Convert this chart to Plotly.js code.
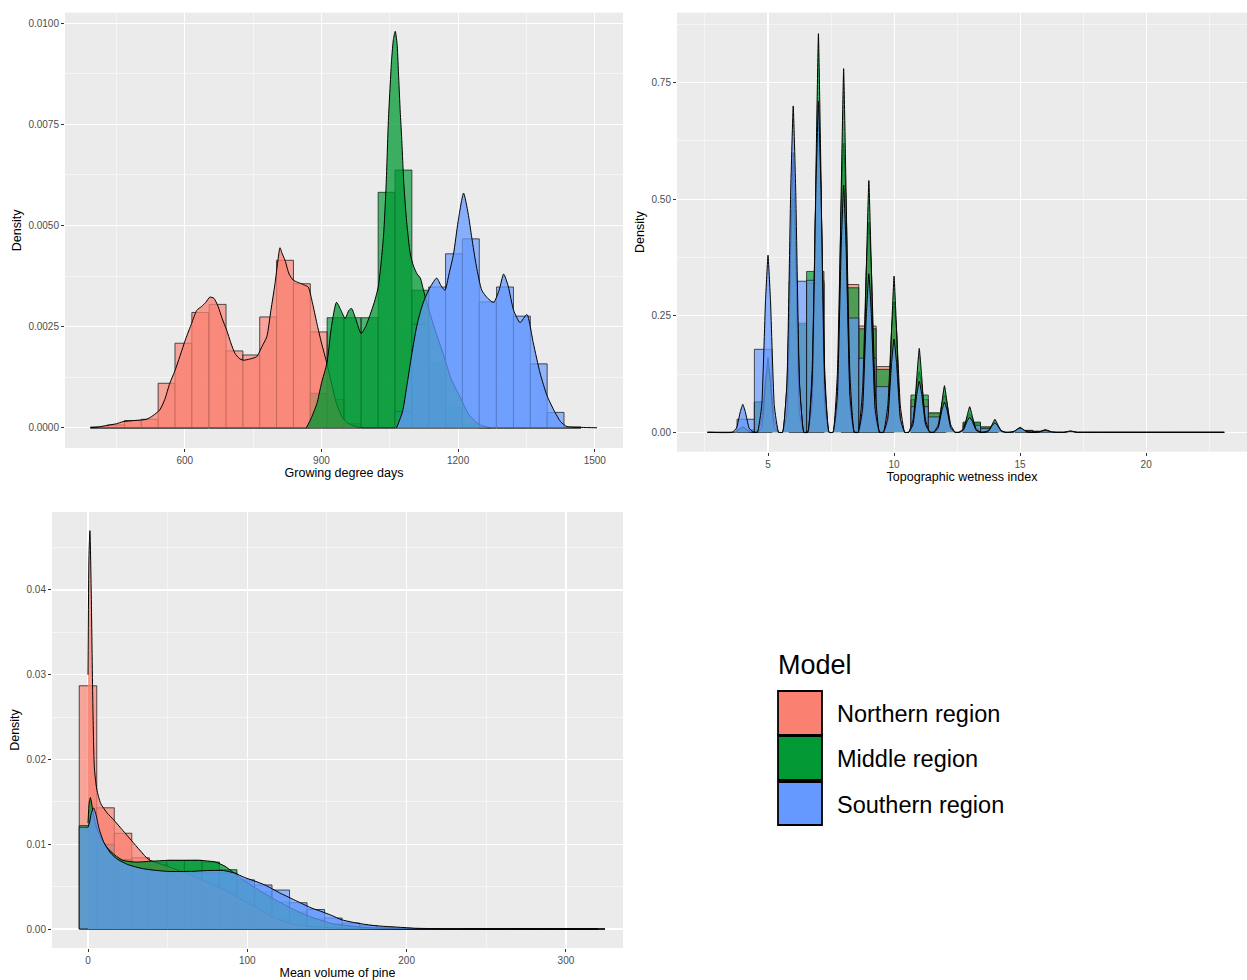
<!DOCTYPE html>
<html><head><meta charset="utf-8">
<script src="https://cdn.plot.ly/plotly-3.0.1.min.js"></script>
<style>html,body{margin:0;padding:0;background:#fff}</style>
</head><body><div id="chart" style="width:1247px;height:980px"></div>
<script>
// ---------- data ----------
const regions = ['Northern region', 'Middle region', 'Southern region'];

// Panel 1: Growing degree days
const gddBins = [412,449,486,523,560,597,634,672,709,746,783,820,857,894,931,968,1006,1043,1080,1117,1154,1191,1228,1265,1303,1340,1377,1414,1451];
const gddRedBars = [0.00002,0.00007,0.00018,0.00021,0.0011,0.00209,0.00285,0.00305,0.0019,0.0018,0.00274,0.00414,0.00356,0.00237,0.0007,0.0001,0,0,0,0,0,0,0,0,0,0,0,0,0];
const gddGreenBars = [0,0,0,0,0,0,0,0,0,0,0,0,0,0.00085,0.00272,0.00272,0.00272,0.00582,0.00637,0.0034,0.0016,0.0005,0.0001,0,0,0,0,0,0];
const gddBlueBars = [0,0,0,0,0,0,0,0,0,0,0,0,0,0,0,0,0,0,0.0004,0.00256,0.00348,0.0043,0.00467,0.00311,0.00348,0.00276,0.00158,0.00038,0.00002];
const gddRedX = [392,410,430,450,464,490,516,530,545,556,567,578,589,602,615,626,637,646,655,664,673,682,692,701,710,719,728,743,758,769,780,789,798,804,809,814,820,829,838,847,856,864,871,880,890,900,912,922,933,946,960,975,990];
const gddRedY = [0,0.00002,0.00006,0.0001,0.00015,0.00018,0.00021,0.0003,0.00044,0.0007,0.0011,0.0014,0.00176,0.0022,0.00258,0.0029,0.003,0.0031,0.00323,0.0032,0.003,0.0027,0.00241,0.0021,0.00184,0.00172,0.00167,0.0017,0.00176,0.0020,0.00225,0.0029,0.00356,0.0041,0.00445,0.0043,0.00414,0.0038,0.00365,0.0036,0.00356,0.00352,0.00348,0.0031,0.00258,0.0021,0.00159,0.0011,0.0006,0.00025,0.0001,0.00003,0];
const gddGreenX = [867,878,890,900,912,922,933,943,952,960,966,975,987,997,1007,1016,1025,1036,1042,1047,1054,1058,1062,1066,1069,1073,1076,1081,1087,1095,1102,1110,1117,1124,1131,1150,1168,1185,1204,1225,1248,1270];
const gddGreenY = [0,0.00025,0.0006,0.0011,0.0016,0.0025,0.0031,0.0029,0.0027,0.0029,0.00295,0.0027,0.00233,0.0025,0.0028,0.0031,0.0035,0.0047,0.006,0.0076,0.0091,0.0096,0.0098,0.0095,0.0088,0.0078,0.0072,0.006,0.0051,0.0043,0.004,0.0038,0.0037,0.0034,0.0031,0.0024,0.0018,0.0012,0.00077,0.0003,0.00007,0];
const gddBlueX = [1065,1078,1087,1098,1109,1118,1127,1140,1153,1163,1171,1180,1190,1200,1212,1222,1230,1240,1252,1265,1278,1290,1300,1310,1322,1336,1351,1365,1380,1395,1410,1425,1439,1470,1505];
const gddBlueY = [0,0.0004,0.001,0.0018,0.0025,0.0029,0.0032,0.0035,0.0037,0.0035,0.0034,0.0038,0.0043,0.0051,0.0058,0.0053,0.0047,0.004,0.0034,0.0032,0.0031,0.0034,0.0038,0.0035,0.0029,0.0026,0.0028,0.0021,0.00135,0.0008,0.00044,0.00015,0.00003,0.00001,0];

// Panel 2: Topographic wetness index
const twiBins = [4.115,4.805,6.185,6.875,8.255,8.945,9.635,11.015,11.705,13.085,13.775,15.155,15.845];
const twiRedBars = [0.005,0.065,0.23,0.32,0.317,0.228,0.141,0.07,0.04,0.02,0.01,0.004,0.002];
const twiGreenBars = [0.005,0.065,0.234,0.345,0.31,0.222,0.135,0.08,0.042,0.022,0.012,0.004,0.002];
const twiBlueBars = [0.028,0.178,0.324,0.326,0.245,0.159,0.098,0.055,0.033,0.015,0.008,0.004,0.002];
const twiX = [2.6,
 3.58,3.75,3.9,4,4.1,4.25,4.42,
 4.58,4.75,4.9,5,5.1,5.25,5.42,
 5.58,5.75,5.9,6,6.1,6.25,6.42,
 6.58,6.75,6.9,7,7.1,7.25,7.42,
 7.58,7.75,7.9,8,8.1,8.25,8.42,
 8.58,8.75,8.9,9,9.1,9.25,9.42,
 9.58,9.75,9.9,10,10.1,10.25,10.42,
 10.58,10.75,10.9,11,11.1,11.25,11.42,
 11.58,11.75,11.9,12,12.1,12.25,12.42,
 12.58,12.75,12.9,13,13.1,13.25,13.42,
 13.58,13.75,13.9,14,14.1,14.25,14.42,
 14.58,14.75,14.9,15,15.1,15.25,15.42,
 15.58,15.75,15.9,16,16.1,16.25,16.42,
 16.58,16.75,16.9,17,17.1,17.25,17.42,
 23.1];
const twiRedY = [0,
 0,0.002,0.008,0.01,0.008,0.002,0,
 0,0.028,0.109,0.14,0.109,0.028,0,
 0,0.10,0.39,0.50,0.39,0.10,0,
 0,0.132,0.515,0.66,0.515,0.132,0,
 0,0.124,0.484,0.62,0.484,0.124,0,
 0,0.09,0.351,0.45,0.351,0.09,0,
 0,0.056,0.218,0.28,0.218,0.056,0,
 0,0.026,0.101,0.13,0.101,0.026,0,
 0,0.016,0.062,0.08,0.062,0.016,0,
 0,0.008,0.031,0.04,0.031,0.008,0,
 0,0.004,0.016,0.02,0.016,0.004,0,
 0,0.002,0.006,0.008,0.006,0.002,0,
 0,0.001,0.003,0.004,0.003,0.001,0,
 0,0,0.0015,0.002,0.0015,0,0,
 0];
const twiGreenY = [0,
 0,0.001,0.008,0.012,0.008,0.001,0,
 0,0.011,0.104,0.16,0.104,0.011,0,
 0,0.042,0.39,0.60,0.39,0.042,0,
 0,0.06,0.556,0.855,0.556,0.06,0,
 0,0.055,0.507,0.78,0.507,0.055,0,
 0,0.038,0.351,0.54,0.351,0.038,0,
 0,0.023,0.218,0.335,0.218,0.023,0,
 0,0.013,0.117,0.18,0.117,0.013,0,
 0,0.007,0.065,0.10,0.065,0.007,0,
 0,0.004,0.036,0.055,0.036,0.004,0,
 0,0.002,0.018,0.028,0.018,0.002,0,
 0,0.001,0.007,0.011,0.007,0.001,0,
 0,0,0.004,0.006,0.004,0,0,
 0,0,0.002,0.003,0.002,0,0,
 0];
const twiBlueY = [0,
 0,0.009,0.044,0.06,0.044,0.009,0,
 0,0.057,0.281,0.38,0.281,0.057,0,
 0,0.105,0.518,0.70,0.518,0.105,0,
 0,0.107,0.525,0.71,0.525,0.107,0,
 0,0.08,0.392,0.53,0.392,0.08,0,
 0,0.051,0.252,0.34,0.252,0.051,0,
 0,0.03,0.148,0.20,0.148,0.03,0,
 0,0.017,0.081,0.11,0.081,0.017,0,
 0,0.01,0.048,0.065,0.048,0.01,0,
 0,0.005,0.024,0.032,0.024,0.005,0,
 0,0.003,0.015,0.02,0.015,0.003,0,
 0,0.001,0.007,0.009,0.007,0.001,0,
 0,0.001,0.003,0.004,0.003,0.001,0,
 0,0,0.0015,0.002,0.0015,0,0,
 0];

// Panel 3: Mean volume of pine
const volBins = [0,11,22,33,44,55,66,77,88,99,110,121,132,143,154,165,176,187,198,209,220,231,242,253,264,275,286,297,308,319];
const volRedBars = [0.0287,0.0143,0.0113,0.0084,0.0076,0.0068,0.0061,0.0055,0.0045,0.0032,0.0022,0.0012,0.0006,0.0003,0.0001,0.00005,0.00002,0,0,0,0,0,0,0,0,0,0,0,0,0];
const volGreenBars = [0.0122,0.0098,0.0082,0.0078,0.0079,0.0081,0.0081,0.0079,0.0070,0.0056,0.0044,0.0032,0.0020,0.0012,0.0006,0.0003,0.0001,0.00005,0.00002,0,0,0,0,0,0,0,0,0,0,0];
const volBlueBars = [0.0120,0.0100,0.0080,0.0072,0.0068,0.0066,0.0066,0.0066,0.0066,0.0058,0.0052,0.0046,0.0031,0.0023,0.0013,0.0007,0.0004,0.0002,0.0001,0.00005,0.00003,0.00002,0.00001,0.00001,0,0,0,0,0,0.00001];
const volRedX = [0,0.6,1.2,2,3,4,5.5,8,12,16,22,27,33,38,45,50,58,65,75,86,95,106,115,126,140,160,190,230,280,320];
const volRedY = [0.030,0.044,0.047,0.040,0.027,0.019,0.0165,0.0148,0.0137,0.0129,0.0116,0.0105,0.0092,0.0082,0.0077,0.0074,0.0068,0.0063,0.0055,0.0046,0.0036,0.0025,0.0015,0.0007,0.0003,0.0001,0.00003,0.00001,0.000005,0];
const volGreenX = [0,0.8,1.5,3,5,8,12,17,22,30,40,50,60,70,80,86,91,96,102,109,115,121,128,136,145,154,163,172,185,200,230,270,320];
const volGreenY = [0.0125,0.0150,0.0155,0.0140,0.0122,0.0108,0.0096,0.0087,0.0081,0.0079,0.0080,0.0081,0.0081,0.0081,0.0079,0.0074,0.0067,0.0060,0.0052,0.0044,0.0037,0.0031,0.0024,0.0017,0.0011,0.0006,0.0004,0.0002,0.0001,0.00005,0.00002,0.00001,0];
const volBlueX = [0,1,2,3.5,5,7,10,14,18,25,35,50,65,75,85,92,98,104,111,121,131,140,146,153,159,166,172,180,187,196,204,213,222,240,270,320];
const volBlueY = [0.0120,0.0126,0.0136,0.0143,0.0135,0.0118,0.0102,0.0090,0.0083,0.0076,0.0071,0.0068,0.0068,0.0069,0.0069,0.0066,0.0061,0.0057,0.0052,0.0042,0.0033,0.0025,0.0021,0.0016,0.0011,0.0008,0.0006,0.0004,0.0003,0.0002,0.0001,0.00006,0.00003,0.00001,0.000005,0];

// ---------- styling ----------
const FONT = 'Liberation Sans, Arial, Helvetica, sans-serif';
const rgb = ['250,128,114', '0,153,51', '102,153,255'];
const W = 1247, H = 980;
const px = v => v / W;
const py = v => 1 - v / H;

function bars(x, y, width, ci, xa, ya) {
  return {type: 'bar', x: x, y: y, width: width, xaxis: xa, yaxis: ya, name: regions[ci],
    showlegend: false, hoverinfo: 'skip',
    marker: {color: 'rgba(' + rgb[ci] + ',0.68)', line: {color: 'rgba(20,20,20,0.8)', width: 0.9}}};
}
function dens(x, y, ci, xa, ya, shape, smooth) {
  return {type: 'scatter', mode: 'lines', x: x, y: y, xaxis: xa, yaxis: ya, name: regions[ci],
    showlegend: false, hoverinfo: 'skip', fill: 'tozeroy',
    fillcolor: 'rgba(' + rgb[ci] + ',0.75)',
    line: {color: '#000000', width: 1, shape: shape, smoothing: smooth}};
}

const traces = [
  bars(gddBins, gddRedBars, 37.1, 0, 'x', 'y'),
  bars(gddBins, gddGreenBars, 37.1, 1, 'x', 'y'),
  bars(gddBins, gddBlueBars, 37.1, 2, 'x', 'y'),
  bars(twiBins, twiRedBars, 0.69, 0, 'x2', 'y2'),
  bars(twiBins, twiGreenBars, 0.69, 1, 'x2', 'y2'),
  bars(twiBins, twiBlueBars, 0.69, 2, 'x2', 'y2'),
  bars(volBins, volRedBars, 11, 0, 'x3', 'y3'),
  bars(volBins, volGreenBars, 11, 1, 'x3', 'y3'),
  bars(volBins, volBlueBars, 11, 2, 'x3', 'y3'),
  dens(gddRedX, gddRedY, 0, 'x', 'y', 'spline', 0.6),
  dens(gddGreenX, gddGreenY, 1, 'x', 'y', 'spline', 0.6),
  dens(gddBlueX, gddBlueY, 2, 'x', 'y', 'spline', 0.6),
  dens(twiX, twiRedY, 0, 'x2', 'y2', 'spline', 0.35),
  dens(twiX, twiGreenY, 1, 'x2', 'y2', 'spline', 0.35),
  dens(twiX, twiBlueY, 2, 'x2', 'y2', 'spline', 0.35),
  dens(volRedX, volRedY, 0, 'x3', 'y3', 'spline', 0.6),
  dens(volGreenX, volGreenY, 1, 'x3', 'y3', 'spline', 0.6),
  dens(volBlueX, volBlueY, 2, 'x3', 'y3', 'spline', 0.6)
];

const common = {
  showgrid: true, gridcolor: '#FFFFFF', gridwidth: 1.1, zeroline: false, showline: false,
  ticks: 'outside', ticklen: 3, tickwidth: 1, tickcolor: '#333333',
  tickfont: {family: FONT, size: 10, color: '#4D4D4D'}, automargin: false, fixedrange: true
};
function ax(extra, minorDtick, title, standoff) {
  return Object.assign({}, common, extra, {
    minor: {dtick: minorDtick, showgrid: true, gridcolor: '#FFFFFF', gridwidth: 0.5},
    title: {text: title, font: {family: FONT, size: 12.5, color: '#000000'}, standoff: standoff}
  });
}

const legendRows = [[691, 735], [736, 780], [782, 825]];
const shapes = legendRows.map((r, i) => ({
  type: 'rect', xref: 'paper', yref: 'paper',
  x0: px(778), x1: px(822), y0: py(r[1]), y1: py(r[0]),
  fillcolor: 'rgb(' + rgb[i] + ')', line: {color: '#000000', width: 1.8}
}));
const annotations = [{
  text: 'Model', xref: 'paper', yref: 'paper', x: px(776), y: py(665),
  xanchor: 'left', yanchor: 'middle', showarrow: false,
  font: {family: FONT, size: 27, color: '#000000'}
}].concat(regions.map((t, i) => ({
  text: t, xref: 'paper', yref: 'paper', x: px(835), y: py((legendRows[i][0] + legendRows[i][1]) / 2 + 1),
  xanchor: 'left', yanchor: 'middle', showarrow: false,
  font: {family: FONT, size: 23.5, color: '#000000'}
})));

const layout = {
  width: W, height: H, margin: {l: 0, r: 0, t: 0, b: 0},
  paper_bgcolor: '#FFFFFF', plot_bgcolor: '#EBEBEB',
  barmode: 'overlay', bargap: 0, showlegend: false,
  font: {family: FONT},
  xaxis: ax({domain: [px(65), px(623)], range: [337, 1562], anchor: 'y', tick0: 0, dtick: 300}, 150, 'Growing degree days', 3),
  yaxis: ax({domain: [py(448), py(12.7)], range: [-0.0005, 0.01026], anchor: 'x', tick0: 0, dtick: 0.0025, tickformat: '.4f'}, 0.00125, 'Density', 4),
  xaxis2: ax({domain: [px(677), 1], range: [1.39, 24.0], anchor: 'y2', tick0: 0, dtick: 5}, 2.5, 'Topographic wetness index', 3),
  yaxis2: ax({domain: [py(451.7), py(12.7)], range: [-0.0416, 0.900], anchor: 'x2', tick0: 0, dtick: 0.25, tickformat: '.2f'}, 0.125, 'Density', 4),
  xaxis3: ax({domain: [px(52), px(623)], range: [-22.6, 335.8], anchor: 'y3', tick0: 0, dtick: 100}, 50, 'Mean volume of pine', 3),
  yaxis3: ax({domain: [py(948), py(512)], range: [-0.00224, 0.0492], anchor: 'x3', tick0: 0, dtick: 0.01, tickformat: '.2f'}, 0.005, 'Density', 4),
  shapes: shapes,
  annotations: annotations
};

Plotly.newPlot('chart', traces, layout, {staticPlot: true, displayModeBar: false});
</script></body></html>
